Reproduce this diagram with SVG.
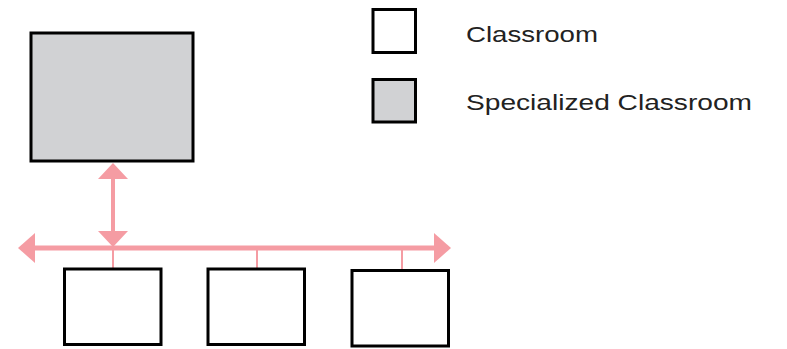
<svg xmlns="http://www.w3.org/2000/svg" width="787" height="349" viewBox="0 0 787 349">
<style>
.room{fill:#fff;stroke:#000;stroke-width:3}
.spec{fill:#d1d2d4;stroke:#000;stroke-width:3}
.lbl{font-family:"Liberation Sans",Arial,sans-serif;font-size:22px;fill:#222}
.ln{stroke:#f59ca3;fill:none}
.hd{fill:#f59ca3}
</style>
<rect width="787" height="349" fill="#fff"/>
<g id="connectors">
<line class="ln" x1="30" y1="248" x2="440" y2="248" stroke-width="5"/>
<polygon class="hd" points="18,248 35,233 35,263"/>
<polygon class="hd" points="451,248 434,233 434,263"/>
<line class="ln" x1="113" y1="175" x2="113" y2="235" stroke-width="4"/>
<polygon class="hd" points="113,163 98,179 128,179"/>
<polygon class="hd" points="113,247 98,231 128,231"/>
<line class="ln" x1="113" y1="248" x2="113" y2="268" stroke-width="2"/>
<line class="ln" x1="257" y1="248" x2="257" y2="268" stroke-width="2"/>
<line class="ln" x1="402" y1="248" x2="402" y2="269" stroke-width="2"/>
</g>
<g id="specialized"><rect class="spec" x="31" y="33" width="162" height="128"/></g>
<g id="room1"><rect class="room" x="64.5" y="269" width="96.5" height="75.5"/></g>
<g id="room2"><rect class="room" x="208" y="269" width="96.5" height="75.5"/></g>
<g id="room3"><rect class="room" x="352" y="270.5" width="96.5" height="75.5"/></g>
<g id="legend-classroom">
<rect class="room" x="373" y="9.5" width="42.5" height="43"/>
<text class="lbl" x="466" y="42" textLength="132" lengthAdjust="spacingAndGlyphs">Classroom</text>
</g>
<g id="legend-specialized">
<rect class="spec" x="373" y="79.5" width="42.5" height="42.5"/>
<text class="lbl" x="466" y="110" textLength="286" lengthAdjust="spacingAndGlyphs">Specialized Classroom</text>
</g>
</svg>
